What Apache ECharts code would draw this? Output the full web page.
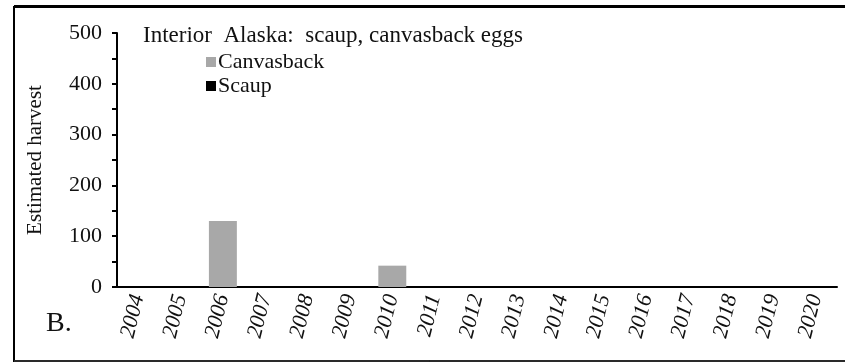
<!DOCTYPE html>
<html><head><meta charset="utf-8">
<script src="https://cdn.jsdelivr.net/npm/echarts@6/dist/echarts.min.js"></script>
<style>html,body{margin:0;padding:0;background:#fff}#c{width:845px;height:362px}</style>
</head><body><div id="c"></div>
<script>
var years = ['2004','2005','2006','2007','2008','2009','2010','2011','2012','2013','2014','2015','2016','2017','2018','2019','2020'];
var canvasback = [0,0,130,0,0,0,42,0,0,0,0,0,0,0,0,0,0];
var scaup = [0,0,0,0,0,0,0,0,0,0,0,0,0,0,0,0,0];
var titleText = 'Interior  Alaska:  scaup, canvasback eggs';
var yName = 'Estimated harvest';
var panelLabel = 'B.';
var FONT = '"Liberation Serif", "DejaVu Serif", serif';
var chart = echarts.init(document.getElementById('c'), null, {renderer:'canvas'});
chart.setOption({
  animation:false,
  backgroundColor:'#fff',
  textStyle:{fontFamily:FONT},
  title:{text:titleText,left:138,top:19,textStyle:{fontFamily:FONT,fontSize:23,fontWeight:'normal',color:'#111'}},
  legend:{data:['Canvasback','Scaup'],orient:'vertical',left:201,top:46,itemWidth:10,itemHeight:10,itemGap:2,
    textStyle:{fontFamily:FONT,fontSize:22,color:'#111',padding:[0,0,0,-3]},icon:'rect'},
  grid:{left:117,right:8,top:33,bottom:75,containLabel:false},
  xAxis:{type:'category',data:years,
    axisLine:{lineStyle:{color:'#000',width:2}},
    axisTick:{alignWithLabel:false,length:6,lineStyle:{color:'#000',width:2}},
    axisLabel:{rotate:76,fontFamily:FONT,fontSize:22,color:'#111',margin:8,fontStyle:'italic'}},
  yAxis:{type:'value',min:0,max:500,interval:50,
    name:yName,nameLocation:'middle',nameGap:71,nameRotate:90,
    nameTextStyle:{fontFamily:FONT,fontSize:21,color:'#111'},
    axisLine:{show:true,lineStyle:{color:'#000',width:2}},
    axisTick:{show:true,length:5,lineStyle:{color:'#000',width:2}},
    splitLine:{show:false},
    axisLabel:{fontFamily:FONT,fontSize:22,color:'#111',margin:15,
      formatter:function(v){return v%100===0?String(v):'';}}},
  series:[
    {name:'Canvasback',type:'bar',stack:'a',data:canvasback,barWidth:'66%',itemStyle:{color:'#a8a8a8'}},
    {name:'Scaup',type:'bar',stack:'a',data:scaup,barWidth:'66%',itemStyle:{color:'#000'}}
  ],
  graphic:[
    {type:'rect',shape:{x:14,y:7,width:850,height:354},style:{fill:'none',stroke:'#000',lineWidth:2},silent:true},
    {type:'line',shape:{x1:14,y1:6.5,x2:845,y2:6.5},style:{stroke:'#000',lineWidth:3}},
    {type:'line',shape:{x1:14,y1:361,x2:845,y2:361},style:{stroke:'#555',lineWidth:1}},
    {type:'text',left:46,top:310,style:{text:panelLabel,font:'28px '+FONT,fill:'#111'}}
  ]
});
</script></body></html>
